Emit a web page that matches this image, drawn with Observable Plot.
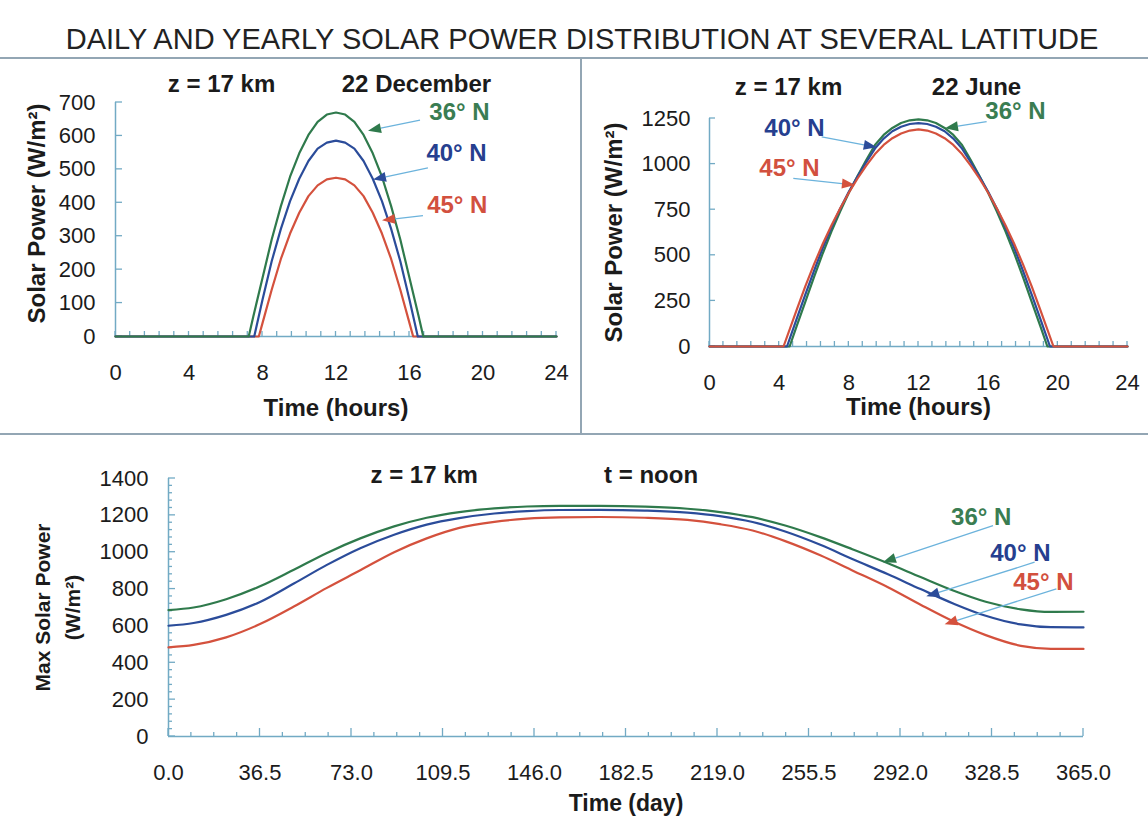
<!DOCTYPE html>
<html><head><meta charset="utf-8">
<script src="https://cdn.jsdelivr.net/npm/d3@7"></script>
<script src="https://cdn.jsdelivr.net/npm/@observablehq/plot@0.6"></script>
<style>
body{margin:0;background:#fff;}
#page{position:relative;width:1148px;height:825px;overflow:hidden;font-family:"Liberation Sans",Arial,sans-serif;background:#fff;}
#title{position:absolute;left:8px;top:21px;width:1148px;text-align:center;font-size:29px;color:#222;line-height:36px;white-space:nowrap;}
.sep{position:absolute;background:#93a6b4;}
.panel{position:absolute;}
</style></head><body>
<div id="page">
<div id="title">DAILY AND YEARLY SOLAR POWER DISTRIBUTION AT SEVERAL LATITUDE</div>
<div class="sep" style="left:0;top:57px;width:1148px;height:2px"></div>
<div class="sep" style="left:580px;top:58px;width:2px;height:376px"></div>
<div class="sep" style="left:0;top:433px;width:1148px;height:2px"></div>
<div id="p1" class="panel" style="left:0;top:60px"></div>
<div id="p2" class="panel" style="left:582px;top:60px"></div>
<div id="p3" class="panel" style="left:0;top:436px"></div>
</div>
<script>
// ---------- data ----------
const latitudes = ["36° N", "40° N", "45° N"];
const latColors = ["#2f7a4c", "#2b4c9a", "#d4513d"];
const labelColors = ["#3a7d52", "#263f8f", "#d2503e"];

// 22 December (hours, W/m2)
const decHours36 = [0, 7.25, 7.5, 8, 8.5, 9, 9.5, 10, 10.5, 11, 11.5, 12, 12.5, 13, 13.5, 14, 14.5, 15, 15.5, 16, 16.5, 16.75, 24];
const decPower36 = [0, 0, 60, 175, 290, 390, 478, 548, 603, 642, 664, 670, 664, 642, 603, 548, 478, 390, 290, 175, 60, 0, 0];
const decHours40 = [0, 7.55, 8, 8.5, 9, 9.5, 10, 10.5, 11, 11.5, 12, 12.5, 13, 13.5, 14, 14.5, 15, 15.5, 16, 16.45, 24];
const decPower40 = [0, 0, 110, 225, 322, 405, 472, 525, 562, 580, 586, 580, 562, 525, 472, 405, 322, 225, 110, 0, 0];
const decHours45 = [0, 7.8, 8, 8.5, 9, 9.5, 10, 10.5, 11, 11.5, 12, 12.5, 13, 13.5, 14, 14.5, 15, 15.5, 16, 16.2, 24];
const decPower45 = [0, 0, 40, 140, 232, 308, 370, 420, 452, 470, 475, 470, 452, 420, 370, 308, 232, 140, 40, 0, 0];

// 22 June (hours, W/m2)
const junHours36 = [0, 4.6, 5, 5.5, 6, 6.5, 7, 7.5, 8, 8.5, 9, 9.5, 10, 10.5, 11, 11.5, 12, 12.5, 13, 13.5, 14, 14.5, 15, 15.5, 16, 16.5, 17, 17.5, 18, 18.5, 19, 19.4, 24];
const junPower36 = [0, 0, 110, 245, 380, 510, 630, 740, 843, 935, 1022, 1105, 1160, 1198, 1225, 1240, 1245, 1240, 1225, 1198, 1160, 1105, 1022, 935, 843, 740, 630, 510, 380, 245, 110, 0, 0];
const junHours40 = [0, 4.45, 5, 5.5, 6, 6.5, 7, 7.5, 8, 8.5, 9, 9.5, 10, 10.5, 11, 11.5, 12, 12.5, 13, 13.5, 14, 14.5, 15, 15.5, 16, 16.5, 17, 17.5, 18, 18.5, 19, 19.55, 24];
const junPower40 = [0, 0, 150, 285, 415, 540, 652, 755, 848, 932, 1010, 1085, 1140, 1180, 1205, 1220, 1225, 1220, 1205, 1180, 1140, 1085, 1010, 932, 848, 755, 652, 540, 415, 285, 150, 0, 0];
const junHours45 = [0, 4.25, 5, 5.5, 6, 6.5, 7, 7.5, 8, 8.5, 9, 9.5, 10, 10.5, 11, 11.5, 12, 12.5, 13, 13.5, 14, 14.5, 15, 15.5, 16, 16.5, 17, 17.5, 18, 18.5, 19, 19.75, 24];
const junPower45 = [0, 0, 200, 330, 450, 562, 663, 757, 843, 921, 992, 1055, 1105, 1142, 1168, 1184, 1190, 1184, 1168, 1142, 1105, 1055, 992, 921, 843, 757, 663, 562, 450, 330, 200, 0, 0];

// yearly, noon (day of year, W/m2)
const yearDays = [0, 10, 23, 36.5, 50, 63, 76.5, 90, 103, 116, 130, 143, 156, 172, 190, 207, 220, 233, 246, 260, 273, 287, 300, 313, 326, 340, 352, 365];
const year36 = [686, 700, 745, 815, 905, 995, 1075, 1140, 1187, 1218, 1238, 1248, 1251, 1251, 1247, 1236, 1218, 1190, 1145, 1082, 1015, 940, 865, 792, 731, 690, 676, 677];
const year40 = [601, 616, 660, 730, 830, 930, 1022, 1095, 1150, 1185, 1210, 1223, 1229, 1230, 1226, 1215, 1196, 1164, 1112, 1040, 962, 880, 800, 722, 655, 608, 593, 592];
const year45 = [484, 497, 538, 610, 705, 805, 902, 1000, 1075, 1132, 1165, 1182, 1189, 1191, 1187, 1175, 1152, 1118, 1060, 983, 900, 810, 715, 625, 550, 492, 476, 475];

// tick labels
const hourTicks = [0, 4, 8, 12, 16, 20, 24];
const decPowerTicks = [0, 100, 200, 300, 400, 500, 600, 700];
const junPowerTicks = [0, 250, 500, 750, 1000, 1250];
const dayTicks = [0, 36.5, 73, 109.5, 146, 182.5, 219, 255.5, 292, 328.5, 365];
const yearPowerTicks = [0, 200, 400, 600, 800, 1000, 1200, 1400];

// annotations (data units)
const decLabelX = [18.72, 18.56, 18.6], decLabelY = [670, 548, 393];
const decArrowFrom = [[16.6, 646], [17.03, 503], [16.76, 360]];
const decArrowTo = [[13.77, 614], [14.04, 468], [14.53, 346]];
const junLabelX = [17.57, 4.88, 4.59], junLabelY = [1288, 1195, 976];
const junArrowFrom = [[15.94, 1230], [6.47, 1147], [4.84, 919]];
const junArrowTo = [[13.55, 1194], [9.63, 1089], [8.38, 883]];
const yearLabelX = [324.2, 339.8, 349], yearLabelY = [1187, 992, 835];
const yearArrowFrom = [[329.1, 1142], [345.7, 943], [354.4, 799]];
const yearArrowTo = [[285.2, 943], [302.5, 758], [309.8, 606]];

// ---------- helpers ----------
const AXIS = "#72aac4";
const ARROW = "#6cb3dc";
const FONT = "'Liberation Sans', Arial, Helvetica, sans-serif";

function toRows(xs, ys, lat) { return xs.map((x, i) => ({x, y: ys[i], lat})); }

function tickMarks({xs, ys, x0, y0, xLen, yLen}) {
  return (index, scales) => {
    const g = d3.create("svg:g").attr("stroke", AXIS).attr("stroke-width", 1.3).attr("fill", "none");
    const py0 = scales.y(y0), px0 = scales.x(x0);
    for (const t of xs) {
      const px = scales.x(t.v);
      g.append("line").attr("x1", px).attr("x2", px).attr("y1", py0).attr("y2", py0 - (t.major ? xLen[1] : xLen[0]));
    }
    for (const t of ys) {
      const py = scales.y(t.v);
      g.append("line").attr("x1", px0).attr("x2", px0 + (t.major ? yLen[1] : yLen[0])).attr("y1", py).attr("y2", py);
    }
    return g.node();
  };
}

function arrows(from, to) {
  return (index, scales) => {
    const g = d3.create("svg:g");
    from.forEach((f, i) => {
      const x1 = scales.x(f[0]), y1 = scales.y(f[1]);
      const x2 = scales.x(to[i][0]), y2 = scales.y(to[i][1]);
      const a = Math.atan2(y2 - y1, x2 - x1);
      const L = 13, W = 5;
      const bx = x2 - L * Math.cos(a), by = y2 - L * Math.sin(a);
      g.append("line").attr("x1", x1).attr("y1", y1).attr("x2", bx).attr("y2", by)
        .attr("stroke", ARROW).attr("stroke-width", 1.3);
      g.append("path")
        .attr("d", `M${x2},${y2}L${bx + W * Math.sin(a)},${by - W * Math.cos(a)}L${bx - W * Math.sin(a)},${by + W * Math.cos(a)}Z`)
        .attr("fill", latColors[i]);
    });
    return g.node();
  };
}

const baseStyle = {fontFamily: FONT, fontSize: "22px", color: "#1b1b1b", background: "transparent", overflow: "visible"};
const bold = {fontWeight: "bold"};

// ---------- panel 1: 22 December ----------
{
  const rows = [
    toRows(decHours45, decPower45, latitudes[2]),
    toRows(decHours40, decPower40, latitudes[1]),
    toRows(decHours36, decPower36, latitudes[0])
  ];
  const xt = d3.range(0, 31).map(i => ({v: i * 0.8, major: false}));
  const yt = decPowerTicks.map(v => ({v, major: true}));
  const p = Plot.plot({
    width: 580, height: 372,
    marginLeft: 115, marginRight: 24, marginTop: 42, marginBottom: 96,
    style: baseStyle,
    x: {domain: [0, 24]},
    y: {domain: [0, 700]},
    marks: [
      Plot.ruleY([0], {x1: 0, x2: 24, stroke: AXIS, strokeWidth: 1.5}),
      Plot.ruleX([0], {y1: 0, y2: 700, stroke: AXIS, strokeWidth: 1.5}),
      tickMarks({xs: xt, ys: yt, x0: 0, y0: 0, xLen: [5, 5], yLen: [7, 7]}),
      Plot.axisX({ticks: hourTicks, tickSize: 0, tickPadding: 28, tickFormat: d3.format("d"), label: null, fontSize: 22}),
      Plot.axisY({ticks: decPowerTicks, tickSize: 0, tickPadding: 20, tickFormat: d3.format("d"), label: null, fontSize: 22}),
      ...rows.map((r, k) => Plot.line(r, {x: "x", y: "y", stroke: latColors[2 - k], strokeWidth: 2.2})),
      arrows(decArrowFrom, decArrowTo),
      Plot.text(latitudes, {x: (d, i) => decLabelX[i], y: (d, i) => decLabelY[i], text: d => d, fill: (d, i) => labelColors[i], fontSize: 24, ...bold}),
      Plot.text(["z = 17 km", "22 December"], {x: [5.77, 16.38], y: [754, 754], text: d => d, fontSize: 24, ...bold}),
      Plot.text(["Time (hours)"], {frameAnchor: "bottom", dy: 72, lineAnchor: "middle", textAnchor: "middle", fontSize: 24, ...bold}),
      Plot.text(["Solar Power (W/m²)"], {frameAnchor: "left", dx: -78, dy: -6, rotate: -90, textAnchor: "middle", lineAnchor: "middle", fontSize: 24, ...bold})
    ]
  });
  document.getElementById("p1").append(p);
}

// ---------- panel 2: 22 June ----------
{
  const rows = [
    toRows(junHours36, junPower36, latitudes[0]),
    toRows(junHours40, junPower40, latitudes[1]),
    toRows(junHours45, junPower45, latitudes[2])
  ];
  const xt = d3.range(0, 31).map(i => ({v: i * 0.8, major: false}));
  const yt = junPowerTicks.map(v => ({v, major: true}));
  const p = Plot.plot({
    width: 566, height: 372,
    marginLeft: 127, marginRight: 21, marginTop: 58, marginBottom: 86,
    style: baseStyle,
    x: {domain: [0, 24]},
    y: {domain: [0, 1250]},
    marks: [
      Plot.ruleY([0], {x1: 0, x2: 24, stroke: AXIS, strokeWidth: 1.5}),
      Plot.ruleX([0], {y1: 0, y2: 1250, stroke: AXIS, strokeWidth: 1.5}),
      tickMarks({xs: xt, ys: yt, x0: 0, y0: 0, xLen: [5, 5], yLen: [6, 6]}),
      Plot.axisX({ticks: hourTicks, tickSize: 0, tickPadding: 28, tickFormat: d3.format("d"), label: null, fontSize: 22}),
      Plot.axisY({ticks: junPowerTicks, tickSize: 0, tickPadding: 19, tickFormat: d3.format("d"), label: null, fontSize: 22}),
      ...rows.map((r, k) => Plot.line(r, {x: "x", y: "y", stroke: latColors[k], strokeWidth: 2.2})),
      arrows(junArrowFrom, junArrowTo),
      Plot.text(latitudes, {x: (d, i) => junLabelX[i], y: (d, i) => junLabelY[i], text: d => d, fill: (d, i) => labelColors[i], fontSize: 24, ...bold}),
      Plot.text(["z = 17 km", "22 June"], {x: [4.54, 15.33], y: [1420, 1420], text: d => d, fontSize: 24, ...bold}),
      Plot.text(["Time (hours)"], {frameAnchor: "bottom", dy: 61, lineAnchor: "middle", textAnchor: "middle", fontSize: 24, ...bold}),
      Plot.text(["Solar Power (W/m²)"], {frameAnchor: "left", dx: -95, rotate: -90, textAnchor: "middle", lineAnchor: "middle", fontSize: 24, ...bold})
    ]
  });
  document.getElementById("p2").append(p);
}

// ---------- panel 3: yearly at noon ----------
{
  const rows = [
    toRows(yearDays, year36, latitudes[0]),
    toRows(yearDays, year40, latitudes[1]),
    toRows(yearDays, year45, latitudes[2])
  ];
  const xt = d3.range(0, 41).map(i => ({v: i * 9.125, major: i % 4 === 0}));
  const yt = d3.range(0, 36).map(i => ({v: i * 40, major: (i * 40) % 200 === 0}));
  const p = Plot.plot({
    width: 1148, height: 389,
    marginLeft: 168, marginRight: 65, marginTop: 42, marginBottom: 89,
    style: baseStyle,
    x: {domain: [0, 365]},
    y: {domain: [0, 1400]},
    marks: [
      Plot.ruleY([0], {x1: 0, x2: 365, stroke: AXIS, strokeWidth: 1.5}),
      Plot.ruleX([0], {y1: 0, y2: 1400, stroke: AXIS, strokeWidth: 1.5}),
      tickMarks({xs: xt, ys: yt, x0: 0, y0: 0, xLen: [4, 8], yLen: [4, 7]}),
      Plot.axisX({ticks: dayTicks, tickSize: 0, tickPadding: 28, tickFormat: d3.format(".1f"), label: null, fontSize: 22}),
      Plot.axisY({ticks: yearPowerTicks, tickSize: 0, tickPadding: 20, tickFormat: d3.format("d"), label: null, fontSize: 22}),
      ...rows.map((r, k) => Plot.line(r, {x: "x", y: "y", stroke: latColors[k], strokeWidth: 2.2, curve: "monotone-x"})),
      arrows(yearArrowFrom, yearArrowTo),
      Plot.text(latitudes, {x: (d, i) => yearLabelX[i], y: (d, i) => yearLabelY[i], text: d => d, fill: (d, i) => labelColors[i], fontSize: 24, ...bold}),
      Plot.text(["z = 17 km", "t = noon"], {x: [102, 192.5], y: [1418, 1418], text: d => d, fontSize: 24, ...bold}),
      Plot.text(["Time (day)"], {frameAnchor: "bottom", dy: 67, lineAnchor: "middle", textAnchor: "middle", fontSize: 23, ...bold}),
      Plot.text(["Max Solar Power"], {frameAnchor: "left", dx: -125, rotate: -90, textAnchor: "middle", lineAnchor: "middle", fontSize: 21, ...bold}),
      Plot.text(["(W/m²)"], {frameAnchor: "left", dx: -95, rotate: -90, textAnchor: "middle", lineAnchor: "middle", fontSize: 21, ...bold})
    ]
  });
  document.getElementById("p3").append(p);
}
</script>
</body></html>
